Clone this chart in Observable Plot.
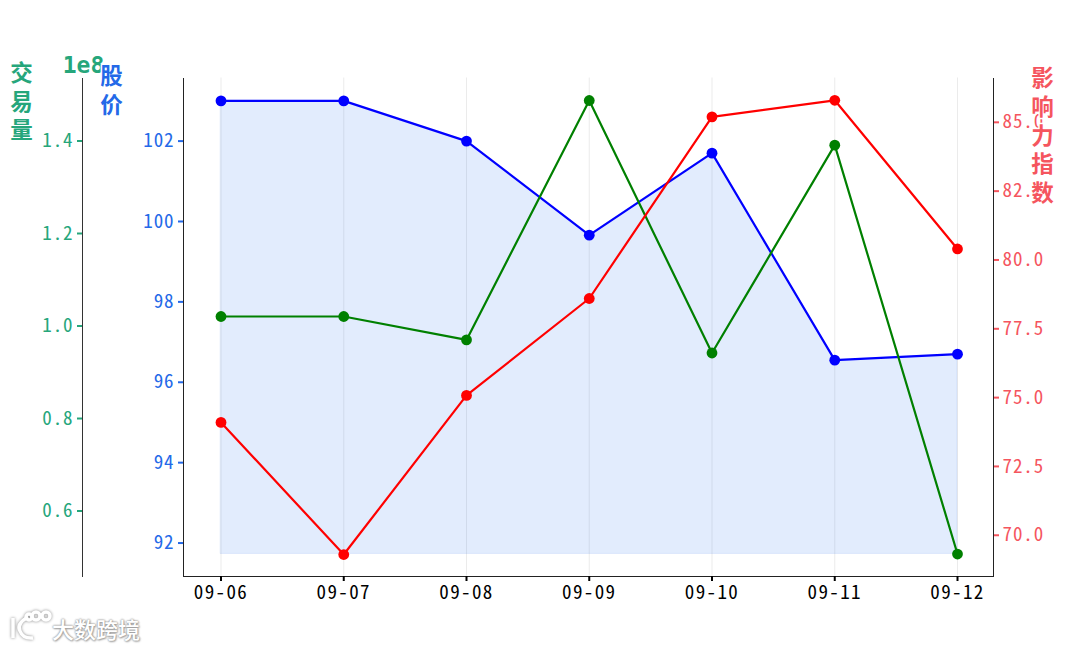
<!DOCTYPE html>
<html><head><meta charset="utf-8">
<script src="https://cdn.jsdelivr.net/npm/d3@7"></script>
<script src="https://cdn.jsdelivr.net/npm/@observablehq/plot@0.6"></script>
<style>
html,body{margin:0;background:#fff}
#c{position:relative;width:1080px;height:648px;overflow:hidden}
#c svg{position:absolute;left:0;top:0;background:transparent}
#c #logo{left:8px;top:610px;overflow:visible}
#wm{position:absolute;left:52px;top:612px;font:500 22px/32px "Noto Sans CJK SC";color:#fff;text-shadow:0 0 2px #999,0 0 2px #999,1px 1px 2px #aaa}
[aria-label="y-axis tick label"] text{letter-spacing:.9px}
[aria-label="x-axis tick label"] text{letter-spacing:1.4px}
</style></head><body><div id="c"></div>
<script>
const dates=["09-06","09-07","09-08","09-09","09-10","09-11","09-12"];
const price=[103,103,102,99.66,101.7,96.55,96.7];
const volume=[1.0205,1.0205,0.97,1.4876,0.9416,1.391,0.507];
const influence=[74.1,69.3,75.08,78.6,85.2,85.8,80.4];
const priceTicks=[92,94,96,98,100,102];
const volumeTicks=[0.6,0.8,1.0,1.2,1.4];
const influenceTicks=[70,72.5,75,77.5,80,82.5,85];
const areaBase=91.73;
const GREEN="#26a67b",BLUE="#2469e8",RED="#f5555e";
const FONT='"Noto Sans Mono CJK SC","Noto Sans CJK SC",sans-serif';
const TITLE='"Noto Sans CJK SC",sans-serif';
const rows=dates.map((d,i)=>({d,price:price[i],volume:volume[i],influence:influence[i]}));
const base={width:1080,height:648,marginTop:78,marginBottom:72,marginLeft:183,marginRight:87,
  x:{type:"point",domain:dates,range:[220.5,957],padding:0,round:false,axis:null},style:{fontFamily:FONT,background:"transparent",overflow:"visible"}};
const title=(t,x,y,color,lh=1.25)=>Plot.text([t],{frameAnchor:"top-left",dx:x,dy:y,fill:color,stroke:"white",strokeWidth:3,fontSize:22.5,fontWeight:"bold",lineHeight:lh,fontFamily:TITLE,textAnchor:"middle",lineAnchor:"top"});
const c=document.getElementById("c");
const VOL={axis:null,domain:[0.4595,1.5362],range:[575.5,77.5]};
const tick={tickSize:5,strokeWidth:2,fontSize:19,label:null,tickPadding:4};

// volume axis
c.append(Plot.plot({...base,marginLeft:82,y:VOL,marks:[
  Plot.frame({anchor:"left",stroke:"#333"}),
  Plot.axisY(volumeTicks,{...tick,anchor:"left",stroke:GREEN,fill:GREEN,tickFormat:d=>d.toFixed(1)}),
  title("交\n易\n量",-61,-17,GREEN),
  Plot.text(["1e8"],{frameAnchor:"top-left",dx:1,dy:-22,fill:GREEN,fontSize:23,fontWeight:"bold",fontFamily:"DejaVu Sans Mono",textAnchor:"middle",lineAnchor:"top"})
]}));

// price area, grid, x axis, spine
c.append(Plot.plot({...base,y:{axis:null,domain:[91.18,103.57],range:[575.5,77.5]},marks:[
  Plot.ruleX(dates,{x:d=>d,y1:91.18,y2:103.57,stroke:"#000",strokeOpacity:0.08}),
  Plot.areaY(rows,{x:"d",y1:areaBase,y2:"price",fill:"rgb(30,110,240)",fillOpacity:0.13,stroke:BLUE,strokeOpacity:0.1}),
  Plot.frame({anchor:"left",stroke:"#222"}),
  Plot.frame({anchor:"bottom",stroke:"#222"}),
  Plot.frame({anchor:"right",stroke:"#222"}),
  Plot.axisX({...tick,anchor:"bottom",stroke:"#000",fill:"#000"}),
  Plot.axisY(priceTicks,{...tick,anchor:"left",stroke:BLUE,fill:BLUE}),
  Plot.line(rows,{x:"d",y:"price",stroke:"#0000ff",strokeWidth:2.2}),
  Plot.dot(rows,{x:"d",y:"price",fill:"#0000ff",r:5.4}),
  title("股\n价",-72,-14,BLUE)
]}));

// volume line on top of area
c.append(Plot.plot({...base,y:VOL,marks:[
  Plot.line(rows,{x:"d",y:"volume",stroke:"#008000",strokeWidth:2.2}),
  Plot.dot(rows,{x:"d",y:"volume",fill:"#008000",r:5.4})
]}));

// influence
c.append(Plot.plot({...base,y:{axis:null,domain:[68.52,86.61],range:[575.5,77.5]},marks:[
  Plot.axisY(influenceTicks,{...tick,anchor:"right",stroke:RED,fill:RED,tickFormat:d=>d.toFixed(1)}),
  Plot.line(rows,{x:"d",y:"influence",stroke:"#ff0000",strokeWidth:2.2}),
  Plot.dot(rows,{x:"d",y:"influence",fill:"#ff0000",r:5.4}),
  title("影\n响\n力\n指\n数",859,-13,RED,1.28)
]}));

// watermark
const ns="http://www.w3.org/2000/svg";
const logo=document.createElementNS(ns,"svg");logo.setAttribute("id","logo");logo.setAttribute("width","44");logo.setAttribute("height","34");
logo.innerHTML='<g fill="none" stroke="#fff" stroke-width="3.5" style="filter:drop-shadow(0 0 1.5px #888)"><path d="M5 8V28"/><path d="M20 7Q8 14 12 21Q15 29 25 28"/><circle cx="21" cy="7" r="3"/><circle cx="28" cy="6" r="4"/><circle cx="38" cy="6" r="4"/></g>';
c.append(logo);
const wm=document.createElement("div");wm.id="wm";wm.textContent="大数跨境";c.append(wm);
</script></body></html>
